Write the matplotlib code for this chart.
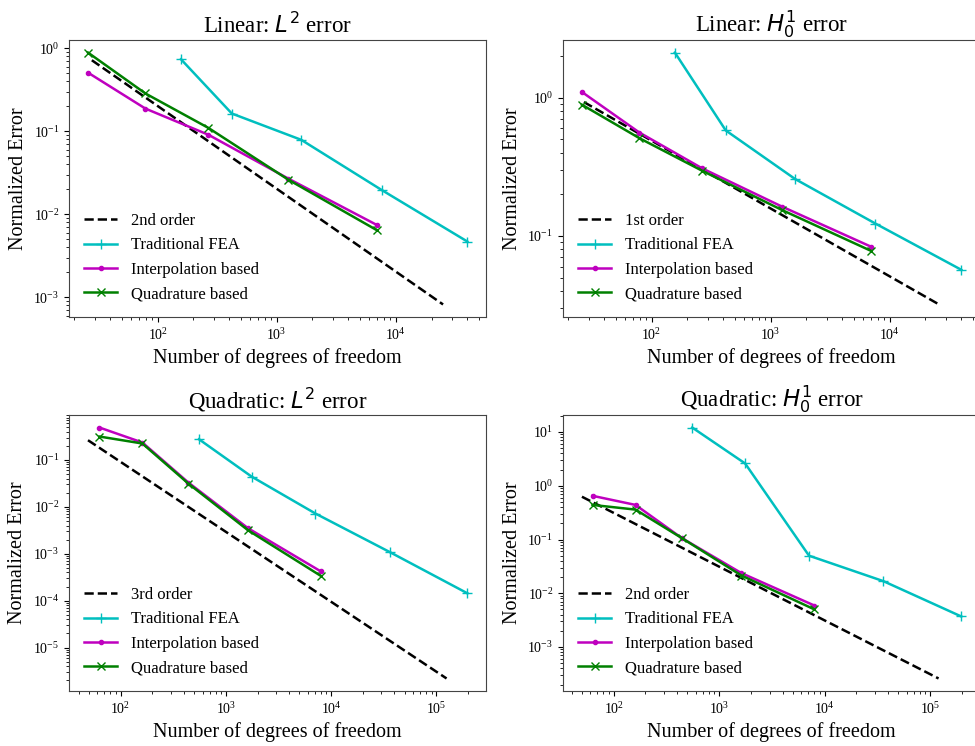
import numpy as np
import matplotlib
matplotlib.use("Agg")
import matplotlib.pyplot as plt

plt.rcParams['font.family'] = ['Liberation Serif', 'DejaVu Serif']
plt.rcParams['mathtext.fontset'] = 'dejavusans'

# degrees of freedom
dof_lin = [26, 79, 267, 1250, 7000]
dof_lin_fea = [157, 420, 1610, 7600, 40000]
dof_quad = [63, 161, 440, 1625, 8000]
dof_quad_fea = [555, 1760, 7100, 36000, 197000]

# linear elements, L2 error
lin_l2_fea = [0.74, 0.164, 0.079, 0.0197, 0.0047]
lin_l2_interp = [0.51, 0.188, 0.091, 0.027, 0.0074]
lin_l2_quad = [0.89, 0.286, 0.11, 0.0262, 0.0064]
lin_l2_ref_x = [28, 25000]
lin_l2_ref_y = [0.72, 8.2e-4]

# linear elements, H1 error
lin_h1_fea = [2.12, 0.58, 0.258, 0.123, 0.057]
lin_h1_interp = [1.1, 0.56, 0.308, 0.163, 0.0836]
lin_h1_quad = [0.89, 0.51, 0.296, 0.154, 0.078]
lin_h1_ref_x = [27, 26000]
lin_h1_ref_y = [0.93, 0.032]

# quadratic elements, L2 error
quad_l2_fea = [0.276, 0.044, 0.0072, 0.00109, 1.44e-4]
quad_l2_interp = [0.49, 0.235, 0.033, 0.0035, 4.2e-4]
quad_l2_quad = [0.315, 0.224, 0.0314, 0.00317, 3.37e-4]
quad_l2_ref_x = [49, 125000]
quad_l2_ref_y = [0.263, 2.2e-6]

# quadratic elements, H1 error
quad_h1_fea = [12.1, 2.6, 0.050, 0.0168, 0.0037]
quad_h1_interp = [0.65, 0.44, 0.107, 0.0237, 0.0059]
quad_h1_quad = [0.44, 0.36, 0.107, 0.0214, 0.0050]
quad_h1_ref_x = [50, 120000]
quad_h1_ref_y = [0.625, 2.6e-4]

panels = [
    ('Linear: $L^2$ error', '2nd order', dof_lin, dof_lin_fea,
     lin_l2_fea, lin_l2_interp, lin_l2_quad, lin_l2_ref_x, lin_l2_ref_y),
    ('Linear: $H_0^1$ error', '1st order', dof_lin, dof_lin_fea,
     lin_h1_fea, lin_h1_interp, lin_h1_quad, lin_h1_ref_x, lin_h1_ref_y),
    ('Quadratic: $L^2$ error', '3rd order', dof_quad, dof_quad_fea,
     quad_l2_fea, quad_l2_interp, quad_l2_quad, quad_l2_ref_x, quad_l2_ref_y),
    ('Quadratic: $H_0^1$ error', '2nd order', dof_quad, dof_quad_fea,
     quad_h1_fea, quad_h1_interp, quad_h1_quad, quad_h1_ref_x, quad_h1_ref_y),
]

positions = [
    [0.0708, 0.575, 0.428, 0.3714],
    [0.5774, 0.575, 0.428, 0.3714],
    [0.0708, 0.0737, 0.428, 0.37],
    [0.5774, 0.0737, 0.428, 0.37],
]

fig = plt.figure(figsize=(9.75, 7.46), dpi=100)

for pos, (title, order, dof, dof_fea, fea, interp, quad, rx, ry) in zip(positions, panels):
    ax = fig.add_axes(pos)
    ax.loglog(rx, ry, 'k--', lw=1.8, label=order)
    ax.loglog(dof_fea, fea, 'c-', marker='+', ms=7, lw=1.8, label='Traditional FEA')
    ax.loglog(dof, interp, 'm-', marker='.', ms=6, lw=1.8, label='Interpolation based')
    ax.loglog(dof, quad, 'g-', marker='x', ms=6, lw=1.8, label='Quadrature based')
    ax.set_title(title, fontsize=16.5, pad=5)
    ax.set_xlabel('Number of degrees of freedom', fontsize=14.5)
    ax.set_ylabel('Normalized Error', fontsize=14.5)
    ax.tick_params(labelsize=10)
    for s in ax.spines.values():
        s.set_color('#444444')
    ax.legend(loc='lower left', frameon=False, fontsize=12)

plt.savefig('out.png')
plt.close()
